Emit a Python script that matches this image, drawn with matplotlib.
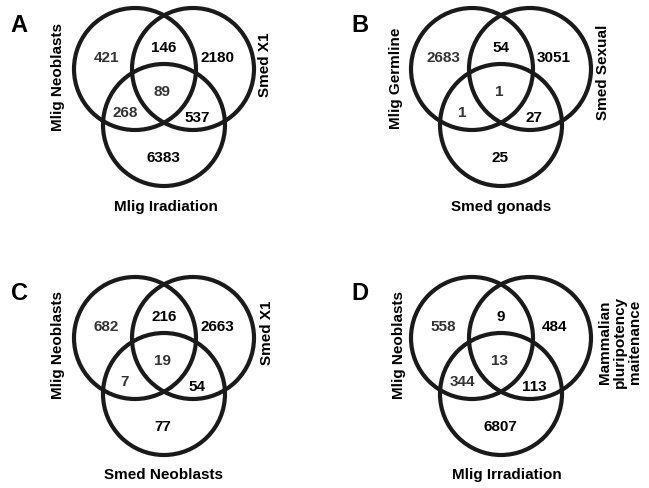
#!/usr/bin/env python3
"""
Four three-set Venn diagrams (panels A-D) drawn with plain matplotlib circles.
"""

import matplotlib
matplotlib.use("Agg")
import matplotlib.pyplot as plt
from matplotlib.patches import Circle

plt.rcParams['font.family'] = ['Liberation Sans', 'DejaVu Sans']

# region order: only1, 1&2, only2, 1&2&3, 1&3, 2&3, only3
panel_letters = ["A", "B", "C", "D"]
counts_A = [421, 146, 2180, 89, 268, 537, 6383]
counts_B = [2683, 54, 3051, 1, 1, 27, 25]
counts_C = [682, 216, 2663, 19, 7, 54, 77]
counts_D = [558, 9, 484, 13, 344, 113, 6807]
sets_A = ["Mlig Neoblasts", "Smed X1", "Mlig Iradiation"]
sets_B = ["Mlig Germline", "Smed Sexual", "Smed gonads"]
sets_C = ["Mlig Neoblasts", "Smed X1", "Smed Neoblasts"]
sets_D = ["Mlig Neoblasts", "Mammalian\npluripotency\nmaitenance", "Mlig Irradiation"]

# layout (pixels): centre of the upper-left circle of each panel
origins = [(135, 70), (472, 70), (135, 339), (472, 339)]
letter_pos = [(19, 25), (360, 25), (19, 293), (360, 293)]
# label offsets relative to the origin: left, right, bottom
label_offsets = [
    [(-77, 7), (130, -5), (31, 137)],
    [(-76, 8), (131, 2), (29, 137)],
    [(-77, 6), (132, -6), (28, 136)],
    [(-73, 6), (148, 3), (35, 136)],
]
circle_offsets = [(0, 0), (58, 0), (29, 56)]
radius = 61
region_offsets = [(-29, -12), (29, -22), (82, -12), (27, 22), (-10, 43), (62, 48), (28, 88)]
region_colors = ["#333333", "black", "black", "#333333", "#333333", "black", "black"]

fig = plt.figure(figsize=(6.49, 4.89), dpi=100)
ax = fig.add_axes([0, 0, 1, 1])
ax.set_xlim(0, 649)
ax.set_ylim(489, 0)
ax.set_aspect('equal')
ax.axis('off')

all_counts = [counts_A, counts_B, counts_C, counts_D]
all_sets = [sets_A, sets_B, sets_C, sets_D]

for i in range(4):
    ox, oy = origins[i]
    for dx, dy in circle_offsets:
        ax.add_patch(Circle((ox + dx, oy + dy), radius, fill=False,
                            edgecolor='#1a1a1a', linewidth=3.0))
    for n, (dx, dy), col in zip(all_counts[i], region_offsets, region_colors):
        ax.text(ox + dx, oy + dy, str(n), ha='center', va='center',
                fontsize=11, fontweight='bold', color=col)
    left, right, bottom = all_sets[i]
    (lx, ly), (rx, ry), (bx, by) = label_offsets[i]
    ax.text(ox + lx, oy + ly, left, rotation=90, ha='center', va='center',
            fontsize=11, fontweight='bold')
    ax.text(ox + rx, oy + ry, right, rotation=90, ha='center', va='center',
            fontsize=11, fontweight='bold', linespacing=1.1)
    ax.text(ox + bx, oy + by, bottom, ha='center', va='center',
            fontsize=11, fontweight='bold')
    ax.text(letter_pos[i][0], letter_pos[i][1], panel_letters[i], ha='center',
            va='center', fontsize=17, fontweight='bold')

plt.savefig("out.png", dpi=100)
